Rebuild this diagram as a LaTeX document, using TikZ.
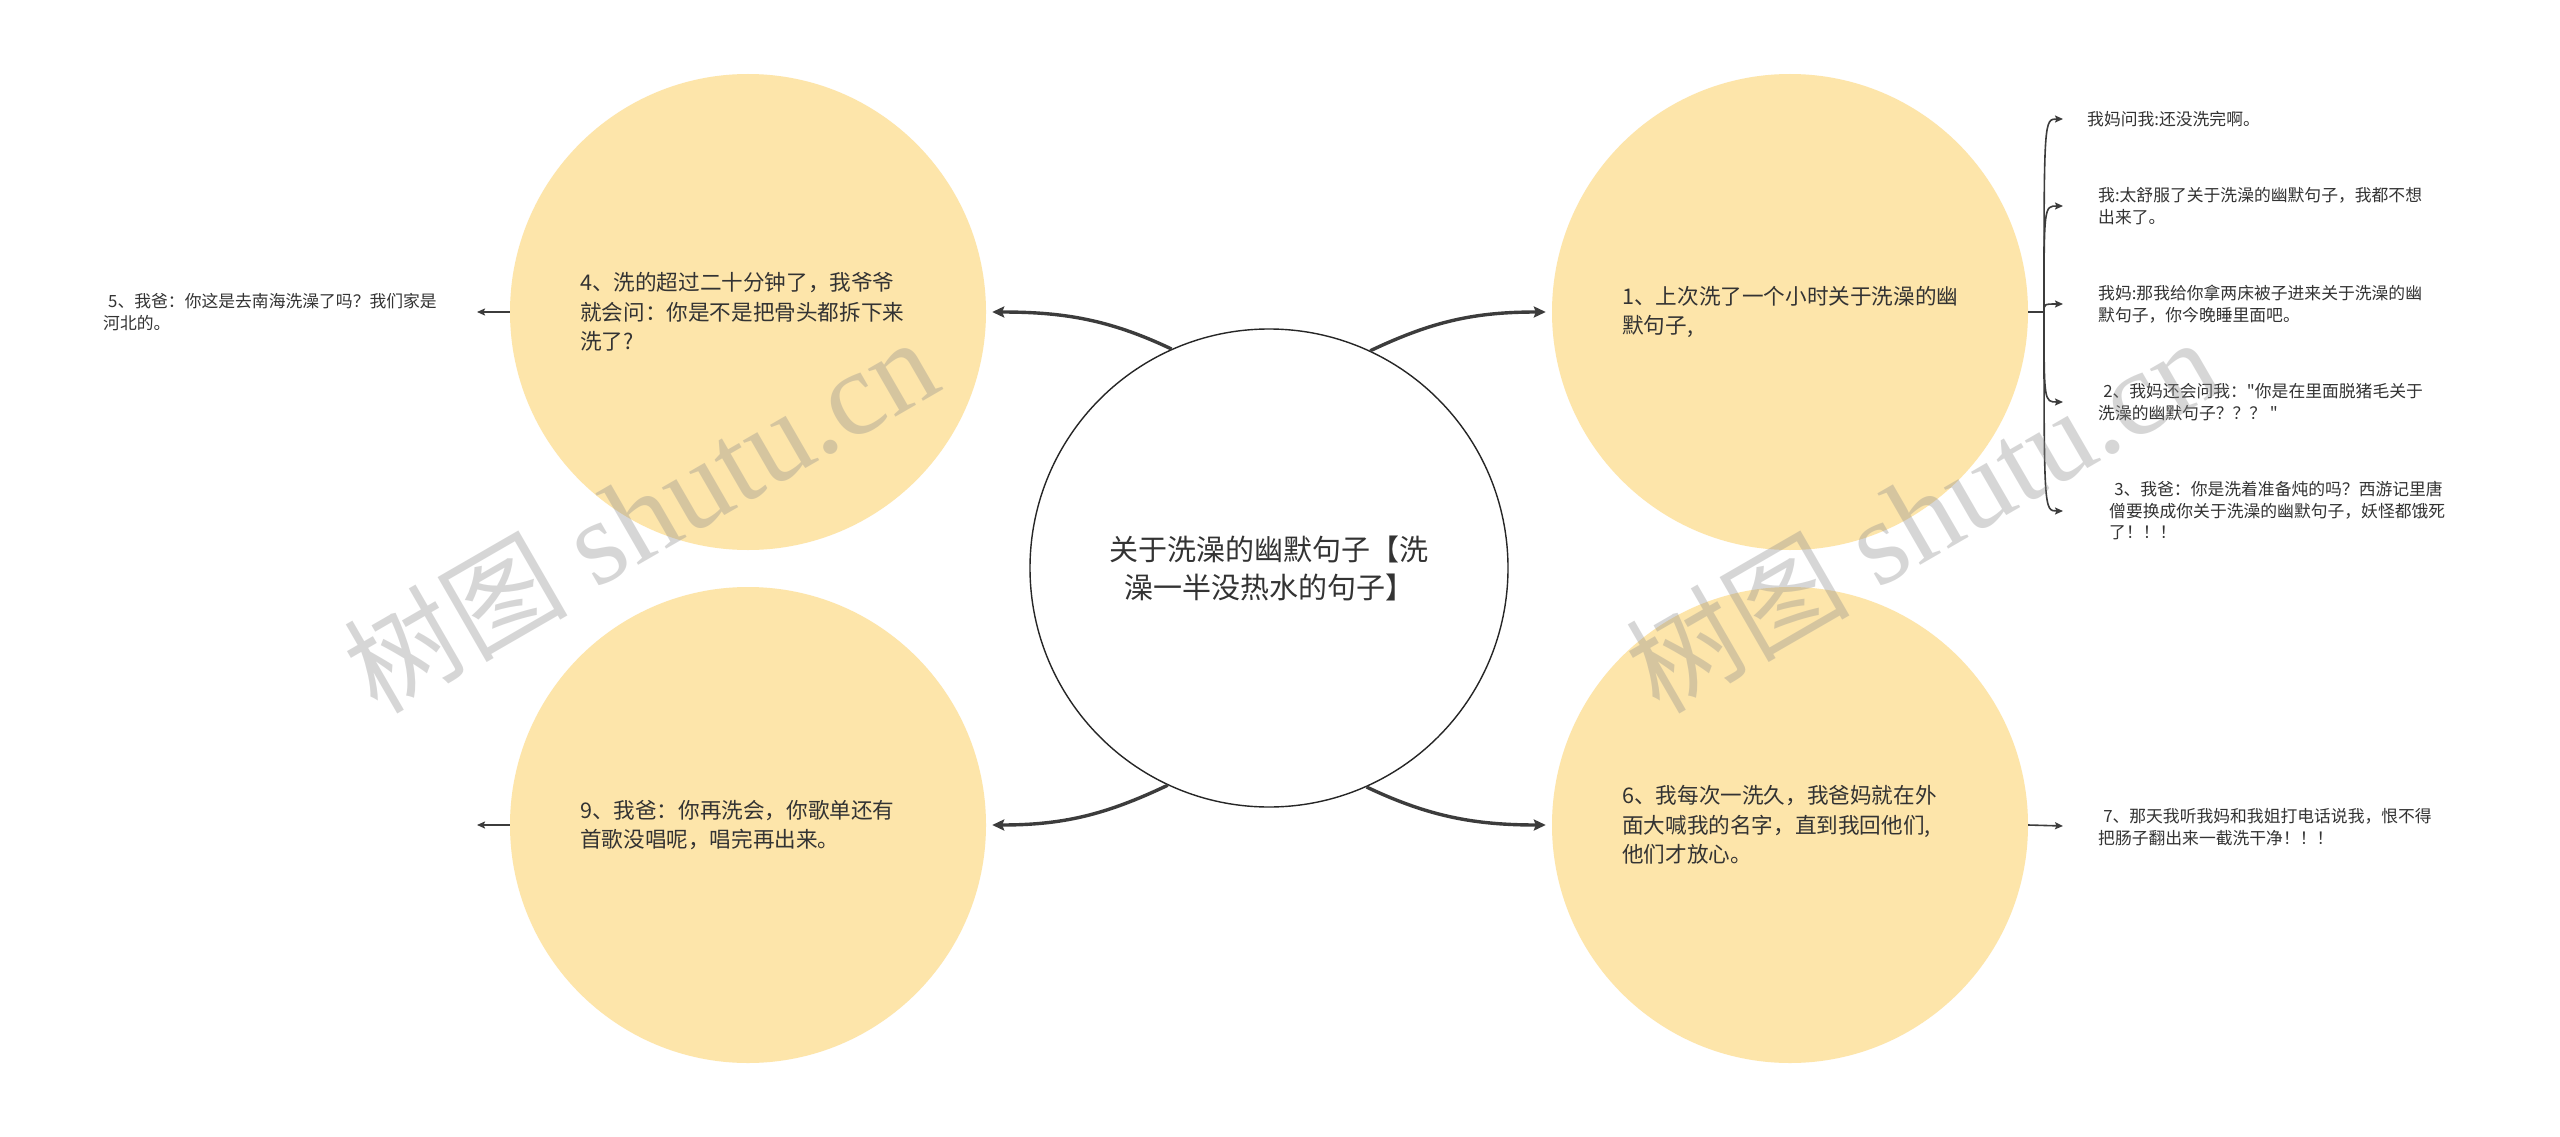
\documentclass[tikz,border=0pt]{standalone}
\usepackage{fontspec}
\newfontfamily\cjk{Noto Sans CJK SC}
\newfontfamily\wmserif{Liberation Serif}
\usetikzlibrary{arrows.meta}
\definecolor{bubblefill}{HTML}{FDE5AA}
\definecolor{ink}{HTML}{333333}
\definecolor{wire}{HTML}{3C3C3C}
\begin{document}
\begin{tikzpicture}[x=1pt,y=-1pt,
  bubble/.style={circle, fill=bubblefill, minimum size=476pt, inner sep=0pt},
  hubcircle/.style={circle, draw=black!85, line width=1.4pt, fill=white, minimum size=478pt, inner sep=0pt},
  bigtxt/.style={font=\cjk\fontsize{21.6}{29.5}\selectfont, text=ink, align=left, anchor=west, inner sep=0pt},
  smalltxt/.style={font=\cjk\fontsize{16.8}{21.5}\selectfont, text=ink, align=left, anchor=west, inner sep=0pt},
  conn/.style={draw=wire, line width=3.4pt, -{Stealth[length=12pt,width=11pt,inset=2pt]}},
  leaf/.style={draw=wire, line width=1.6pt, -{Stealth[length=8pt,width=7pt,inset=1.5pt]}},
  plainwire/.style={draw=wire, line width=1.6pt},
  wm/.style={text=black!45, opacity=0.35, rotate=30, inner sep=0pt}
]
\useasboundingbox (0,0) rectangle (2560,1137);
\fill[white] (0,0) rectangle (2560,1137);

% yellow bubbles
\node[bubble] (tl) at (748,312) {};
\node[bubble] (tr) at (1790,312) {};
\node[bubble] (bl) at (748,825) {};
\node[bubble] (br) at (1790,825) {};

% centre
\node[hubcircle, font=\cjk\fontsize{29}{38}\selectfont, text=ink, align=center] (c) at (1269,568)
  {关于洗澡的幽默句子【洗\\澡一半没热水的句子】};

% main connectors
\draw[conn] (c.114.5) .. controls +(-63,-30) and +(70,0) .. ([xshift=6pt]tl.east);
\draw[conn] (c.65.5) .. controls +(63,-30) and +(-70,0) .. ([xshift=-6pt]tr.west);
\draw[conn] (c.245.5) .. controls +(-63,30) and +(70,0) .. ([xshift=6pt]bl.east);
\draw[conn] (c.294.5) .. controls +(63,30) and +(-70,0) .. ([xshift=-6pt]br.west);

% bubble texts
\node[bigtxt] (t4) at ([xshift=-168pt]tl.center) {4、洗的超过二十分钟了，我爷爷\\就会问：你是不是把骨头都拆下来\\洗了?};
\node[bigtxt] (t1) at ([xshift=-168pt]tr.center) {1、上次洗了一个小时关于洗澡的幽\\默句子,};
\node[bigtxt] (t9) at ([xshift=-168pt]bl.center) {9、我爸：你再洗会，你歌单还有\\首歌没唱呢，唱完再出来。};
\node[bigtxt] (t6) at ([xshift=-168pt]br.center) {6、我每次一洗久，我爸妈就在外\\面大喊我的名字，直到我回他们,\\他们才放心。};

% left leaves
\coordinate (tlend) at (477,312);
\coordinate (blend) at (477,825);
\draw[leaf] (tl.west) -- (tlend);
\draw[leaf] (bl.west) -- (blend);
\node[smalltxt] (l5) at (103,312) {\hspace*{0.3em}5、我爸：你这是去南海洗澡了吗？我们家是\\河北的。};

% right top bracket
\coordinate (hub) at (2044,312);
\coordinate (a1) at (2063,119);
\coordinate (a2) at (2063,206);
\coordinate (a3) at (2063,304);
\coordinate (a4) at (2063,402);
\coordinate (a5) at (2063,511);
\draw[plainwire] (tr.east) -- (hub);
\draw[leaf] (hub) .. controls (2044,119) and (2044,119) .. (a1);
\draw[leaf] (hub) .. controls (2044,206) and (2044,206) .. (a2);
\draw[leaf] (hub) .. controls (2044,304) and (2044,304) .. (a3);
\draw[leaf] (hub) .. controls (2044,402) and (2044,402) .. (a4);
\draw[leaf] (hub) .. controls (2044,511) and (2044,511) .. (a5);

\node[smalltxt] (r1) at (2087,119) {我妈问我:还没洗完啊。};
\node[smalltxt] (r2) at (2098,206) {我:太舒服了关于洗澡的幽默句子，我都不想\\出来了。};
\node[smalltxt] (r3) at (2098,304) {我妈:那我给你拿两床被子进来关于洗澡的幽\\默句子，你今晚睡里面吧。};
\node[smalltxt] (r4) at (2098,402) {\hspace*{0.3em}2、我妈还会问我："你是在里面脱猪毛关于\\洗澡的幽默句子？？？ "};
\node[smalltxt] (r5) at (2109,511) {\hspace*{0.3em}3、我爸：你是洗着准备炖的吗？西游记里唐\\僧要换成你关于洗澡的幽默句子，妖怪都饿死\\了！！！};

% right bottom leaf
\coordinate (brend) at (2063,826);
\draw[leaf] (br.east) -- (brend);
\node[smalltxt] (r7) at (2098,827) {\hspace*{0.3em}7、那天我听我妈和我姐打电话说我，恨不得\\把肠子翻出来一截洗干净！！！};

% watermarks
\node[wm] (wm1) at (640,515) {{\cjk\fontsize{112}{112}\selectfont 树图}\hspace{28pt}{\wmserif\fontsize{120}{120}\selectfont shutu.cn}};
\node[wm] (wm2) at (1922,515) {{\cjk\fontsize{112}{112}\selectfont 树图}\hspace{28pt}{\wmserif\fontsize{120}{120}\selectfont shutu.cn}};
\end{tikzpicture}
\end{document}
